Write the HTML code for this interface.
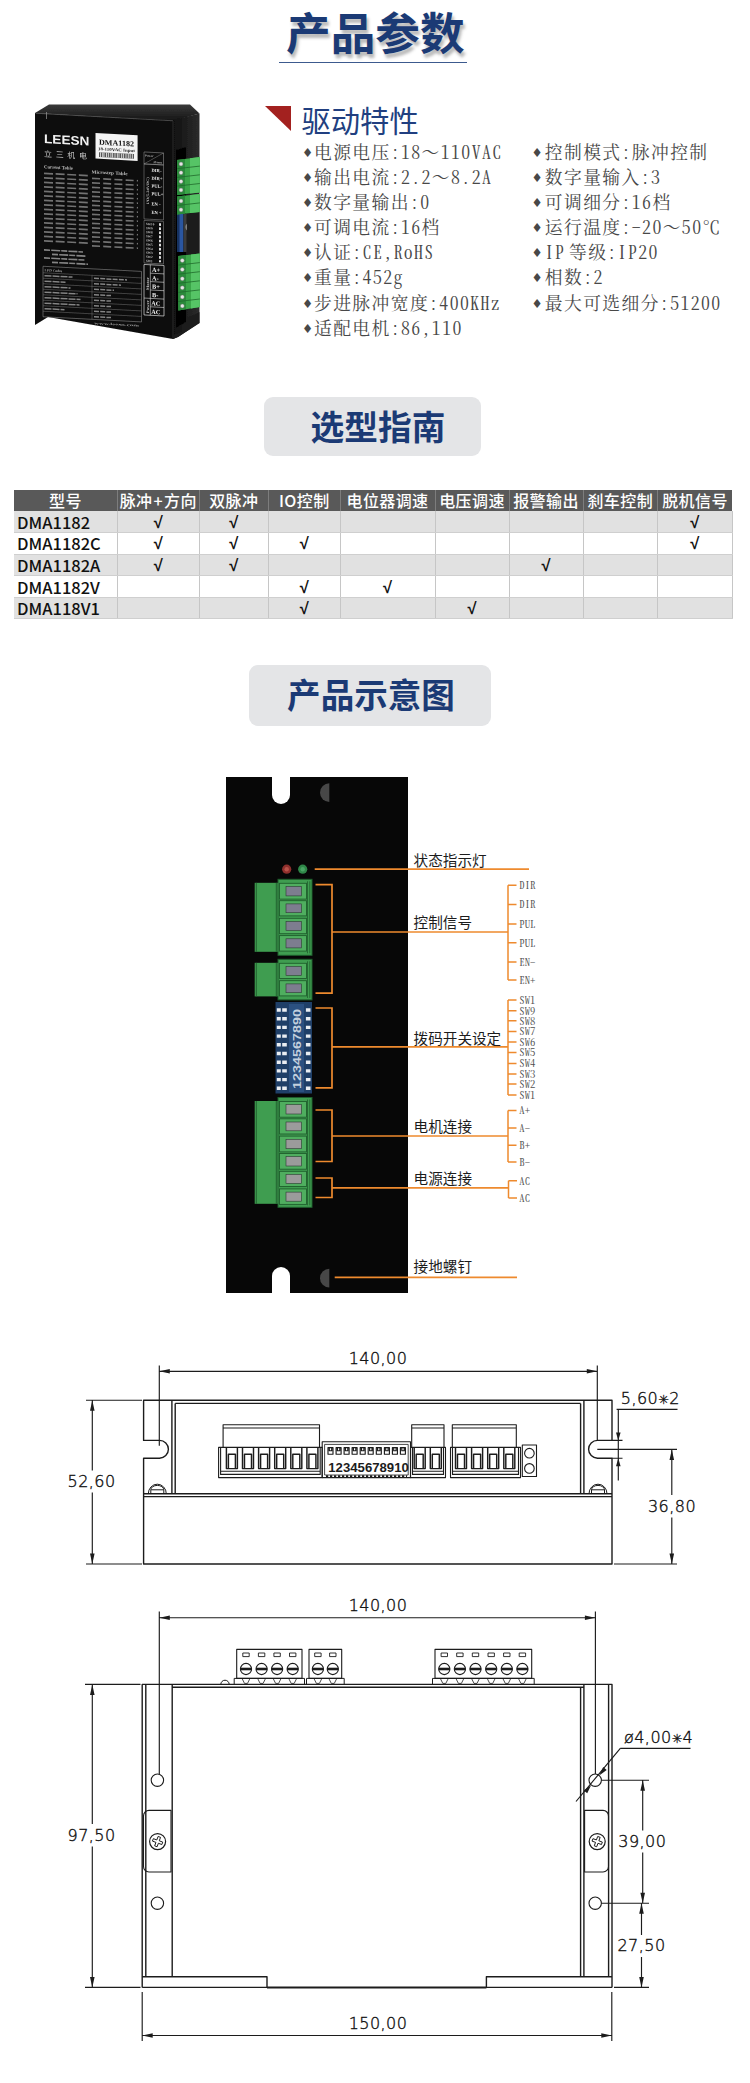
<!DOCTYPE html>
<html lang="zh-CN">
<head>
<meta charset="utf-8">
<title>产品参数</title>
<style>
html,body{margin:0;padding:0;background:#fff}
body{width:750px;height:2083px;position:relative;overflow:hidden;font-family:"Liberation Sans","Noto Sans CJK SC",sans-serif;color:#222}
.abs{position:absolute}
/* title */
#title{left:0;width:750px;top:3.3px;text-align:center;font-size:44.6px;line-height:64px;font-weight:700;color:#1b3a75;letter-spacing:0;text-shadow:2px 4px 3px rgba(90,90,90,.42)}
#title span{display:inline-block;transform:translateX(0.3px)}
#tline{left:279px;top:61.5px;width:188px;height:1.5px;background:#3c5a8e}
/* heading */
#tri{left:265px;top:106px;width:0;height:0;border-top:25px solid #a3211f;border-left:26px solid transparent}
#h2{left:301.5px;top:99.5px;font-size:29.3px;line-height:44px;color:#213f80;font-weight:400;white-space:nowrap}
/* spec list */
.spec{font-family:"Noto Serif CJK SC","Noto Serif CJK JP",serif;font-size:17.8px;letter-spacing:1.4px;line-height:25.1px;color:#484848;white-space:pre;font-feature-settings:"hwid" 1;font-weight:400}
.spec i{font-style:normal;display:inline-block;position:relative;top:1px;left:-1.6px;width:8.9px;font-size:12.5px;font-family:'DejaVu Sans',sans-serif;letter-spacing:0;margin-right:1.4px;text-align:center;vertical-align:top;font-feature-settings:normal}
.spec b{font-weight:inherit;font-feature-settings:normal}
.spec u{text-decoration:none;display:inline-block;width:3.6px}
.spec.r i{width:10.4px}
/* badges */
.badge{background:#e4e5e7;border-radius:9px;overflow:hidden;text-align:center;font-weight:700;color:#1b3a75;white-space:nowrap}
/* table */
#tbl{left:14px;top:490px;width:718px;border-collapse:collapse;table-layout:fixed;font-family:"Noto Sans CJK SC","Liberation Sans",sans-serif}
#tbl td,#tbl th{box-sizing:border-box;padding:0;height:21.6px;line-height:20px;border-left:1px solid #c6c6c6;text-align:center;overflow:hidden;white-space:nowrap}
#tbl th{background:#595959;color:#fff;font-weight:500;font-size:16px;letter-spacing:.4px;height:21px;line-height:21px;border-left:1px solid #7d7d7d}
#tbl tr.g td{background:#e1e1e1}
#tbl td{font-family:"Liberation Sans",sans-serif;font-weight:700;font-size:16.5px;color:#111;border-bottom:1px solid #cfcfcf}
#tbl td:first-child{font-family:"Noto Sans CJK SC","Liberation Sans",sans-serif;text-align:left;font-weight:500;font-size:16.5px;color:#111;padding-left:3px;border-left:none}
#tbl th:first-child{border-left:none}
#tbl td:last-child{border-right:1px solid #c6c6c6}
</style>
</head>
<body>
<div id="title" class="abs"><span>产品参数</span></div>
<div id="tline" class="abs"></div>

<!--PHOTO-S-->
<svg class="abs" style="left:20px;top:95px" width="200" height="250" viewBox="20 95 200 250" font-family="Liberation Serif, serif">
<defs>
<filter id="pb" x="-5%" y="-5%" width="110%" height="110%"><feGaussianBlur stdDeviation="0.45"/></filter>
<linearGradient id="gfin" x1="0" y1="0" x2="0" y2="1"><stop offset="0" stop-color="#3a3a3a"/><stop offset="1" stop-color="#151515"/></linearGradient>
<linearGradient id="gside" x1="0" y1="0" x2="1" y2="0"><stop offset="0" stop-color="#101010"/><stop offset="1" stop-color="#2c2c2c"/></linearGradient>
</defs>
<g filter="url(#pb)">
<!-- heatsink top -->
<polygon points="35,113 49,104.5 190,104.5 199.5,113.5 173,121" fill="url(#gfin)"/>
<!-- right side -->
<polygon points="173,120 199.5,113.5 199.5,323 178,337 173,339" fill="url(#gside)"/>
<!-- front plate -->
<polygon points="35,113 173,120.5 173,339 48,317 35,325" fill="#0b0b0b"/>
<polyline points="35.5,113.3 173,120.8" stroke="#5a5a5a" stroke-width=".7" fill="none"/>
<line x1="173" y1="121" x2="173" y2="338" stroke="#333" stroke-width=".8"/>
<line x1="46.5" y1="112" x2="46.5" y2="119" stroke="#999" stroke-width=".7"/>
<!-- feet -->
<polygon points="173,339 178,337 199.5,323 199.5,312 187,318 187,330 173,335" fill="#1d1d1d"/>
<!-- logo -->
<text x="44" y="143.2" font-family="Liberation Sans, sans-serif" font-weight="700" font-size="12.5" fill="#f2f2f2" textLength="45.5" lengthAdjust="spacingAndGlyphs" transform="skewY(3) translate(0,-2.4)">LEESN</text>
<text x="44" y="156.8" font-family="Noto Sans CJK SC, sans-serif" font-size="8" fill="#c8c8c8" textLength="43" lengthAdjust="spacing" transform="skewY(3) translate(0,-2.4)">立三机电</text>
<!-- label -->
<polygon points="95.5,133 137.6,135.2 137.6,161 95.5,158.6" fill="#f4f4f4"/>
<g transform="skewY(3) translate(0,-5.2)">
<text x="116.5" y="144.6" text-anchor="middle" font-weight="700" font-size="7.6" fill="#111" textLength="35" lengthAdjust="spacingAndGlyphs">DMA1182</text>
<text x="116.5" y="150.3" text-anchor="middle" font-weight="700" font-size="4.3" fill="#222" textLength="37" lengthAdjust="spacingAndGlyphs">18-110VAC Input</text>
<rect x="99" y="152.3" width="35" height="4.6" fill="#555"/>
<path d="M100.5 152.3v4.6M102.7 152.3v4.6M104 152.3v4.6M106.5 152.3v4.6M108.4 152.3v4.6M110.9 152.3v4.6M112.6 152.3v4.6M115 152.3v4.6M117.4 152.3v4.6M119 152.3v4.6M121.6 152.3v4.6M123.4 152.3v4.6M126 152.3v4.6M128.3 152.3v4.6M130.2 152.3v4.6M132.4 152.3v4.6" stroke="#eee" stroke-width=".8"/>
</g>
<!-- tables -->
<g transform="skewY(3) translate(0,-3)" fill="#bdbdbd" font-weight="700">
<text x="44" y="169" font-size="4.8" textLength="29" lengthAdjust="spacingAndGlyphs">Current Table</text>
<text x="91.5" y="171.6" font-size="4.8" textLength="36" lengthAdjust="spacingAndGlyphs">Microstep Table</text>
<g stroke="#727272" stroke-width="1.7" fill="none">
<path d="M44 174h45M44 178.5h45M44 183h45M44 187.500h45M44 192h45M44 196.500h45M44 201h45M44 205.500h45M44 210h45M44 214.500h45M44 219h45M44 223.500h45M44 228h45M44 232.500h45M44 237h45M44 241.500h45" stroke-dasharray="9 2.6"/>
<path d="M92 176.500h46M92 181h46M92 185.500h46M92 190h46M92 194.500h46M92 199h46M92 203.500h46M92 208h46M92 212.500h46M92 217h46M92 221.500h46M92 226h46M92 230.500h46M92 235h46M92 239.500h46M92 244h46" stroke-dasharray="8 3.2"/>
</g>
<g stroke="#858585" stroke-width="1.6" fill="none">
<path d="M44 250.600h39M52 254.600h34M44 258.600h41M52 262.600h36" stroke-dasharray="6 1.2 9 1"/>
</g>
<!-- LED codes table -->
<rect x="43" y="267" width="98.500" height="50.500" fill="none" stroke="#8a8a8a" stroke-width=".6"/>
<path d="M43 273.500h98.500M43 279h98.500M43 284.500h98.500M43 290h98.500M43 295.500h98.500M43 301h98.500M43 306.500h98.500M43 312h98.500M92 273.500v44" stroke="#7a7a7a" stroke-width=".5" fill="none"/>
<text x="44.500" y="272" font-size="3.6" fill="#aaa">LED Codes</text>
<g stroke="#858585" stroke-width="1.5" fill="none">
<path d="M44.500 276.300h28M44.500 281.800h21M44.500 287.300h26M44.500 292.800h33M44.500 298.300h36M44.500 303.800h35M44.500 309.300h20" stroke-dasharray="7 1"/>
<path d="M94 276.300h33M94 281.800h27M94 287.300h20M94 292.800h17M94 298.300h17M94 303.800h17M94 309.300h17M94 314.800h17" stroke-dasharray="5 1.2"/>
</g>
<text x="94" y="322.300" font-size="3.4" fill="#9a9a9a" textLength="45" lengthAdjust="spacingAndGlyphs">www.leesn.com</text>
</g>
<!-- right label column -->
<g transform="skewY(3) translate(0,-15.6)" fill="#e8e8e8" font-weight="700">
<rect x="144" y="160" width="19.500" height="12" fill="none" stroke="#aaa" stroke-width=".5"/>
<line x1="144" y1="172" x2="163.500" y2="160" stroke="#aaa" stroke-width=".4"/>
<text x="145" y="164.600" font-size="3.2" fill="#bbb">Power</text><text x="153" y="170.800" font-size="3.2" fill="#bbb">Alarm</text>
<rect x="144" y="172" width="19.500" height="55" fill="none" stroke="#9a9a9a" stroke-width=".5"/>
<text font-size="4.6" x="151.500"><tspan x="151.500" y="179.500">DIR-</tspan><tspan x="151.500" y="187.300">DIR+</tspan><tspan x="151.500" y="195.100">PUL-</tspan><tspan x="151.500" y="202.900">PUL+</tspan><tspan x="151.500" y="213">EN -</tspan><tspan x="151.500" y="221.500">EN +</tspan></text>
<text font-size="3.8" fill="#bbb" transform="rotate(-90 148.800 212)" x="148.800" y="212" textLength="27" lengthAdjust="spacingAndGlyphs">I/O(5-24VDC)</text>
<rect x="144" y="228.500" width="19.500" height="42.500" fill="none" stroke="#9a9a9a" stroke-width=".5"/>
<text font-size="3.3" fill="#ccc"><tspan x="146" y="233">SW10</tspan><tspan x="146" y="237.100">SW9</tspan><tspan x="146" y="241.200">SW8</tspan><tspan x="146" y="245.300">SW7</tspan><tspan x="146" y="249.400">SW6</tspan><tspan x="146" y="253.500">SW5</tspan><tspan x="146" y="257.600">SW4</tspan><tspan x="146" y="261.700">SW3</tspan><tspan x="146" y="265.800">SW2</tspan><tspan x="146" y="269.900">SW1</tspan></text>
<path d="M160 230.500v39" stroke="#ddd" stroke-width="2" stroke-dasharray="2.6 1.500"/>
<rect x="144" y="272.500" width="20" height="50.500" fill="none" stroke="#ddd" stroke-width=".7"/>
<path d="M150.300 272.500v50.500M150.300 280.900h13.700M150.300 289.300h13.700M150.300 297.700h13.700M144 306.100h20M150.300 314.500h13.700" stroke="#ddd" stroke-width=".6" fill="none"/>
<text font-size="6.3" fill="#f4f4f4"><tspan x="152" y="279.400">A+</tspan><tspan x="152" y="287.800">A-</tspan><tspan x="152" y="296.200">B+</tspan><tspan x="152" y="304.600">B-</tspan><tspan x="151.300" y="313">AC</tspan><tspan x="151.300" y="321.400">AC</tspan></text>
<text font-size="3.8" fill="#ccc" transform="rotate(-90 148.600 298)" x="148.600" y="298" textLength="13" lengthAdjust="spacingAndGlyphs">Motor</text>
<text font-size="3.8" fill="#ccc" transform="rotate(-90 148.600 321)" x="148.600" y="321" textLength="13" lengthAdjust="spacingAndGlyphs">Power</text>
</g>
<!-- side recess + dip -->
<polygon points="176,150 186,147 186,322 176,328" fill="#050505"/>
<rect x="177" y="214" width="6.500" height="38" fill="#2a57a0"/>
<rect x="177" y="214" width="2.500" height="38" fill="#16305f"/><rect x="183.500" y="214" width="6" height="38" fill="#3a3a3a"/>
<ellipse cx="187.800" cy="227" rx="2.100" ry="3.600" fill="#e0e0e0"/>
<polygon points="186.500,200 199.500,196 199.500,262 186.500,258" fill="#1c1c1c"/>
<!-- green terminals -->
<g>
<polygon points="177,160 199.800,157 199.800,192.500 177,195" fill="#3aa64a"/>
<polygon points="177,160 185,159 185,194 177,195" fill="#2b8a3a"/>
<polygon points="190,158.300 199.800,157 199.800,192.500 190,193.600" fill="#57c466"/>
<path d="M177 168.700l22.800-2.600M177 177.400l22.800-2.600M177 186.100l22.800-2.600" stroke="#1f6a2c" stroke-width=".8"/>
<g fill="#e6e6e6" stroke="#666" stroke-width=".4"><circle cx="181" cy="164" r="2"/><circle cx="181" cy="172.700" r="2"/><circle cx="181" cy="181.400" r="2"/><circle cx="181" cy="190.100" r="2"/></g>
<polygon points="177,196.500 199.800,194 199.800,212 177,214.500" fill="#3aa64a"/>
<polygon points="177,196.500 185,195.600 185,213.600 177,214.500" fill="#2b8a3a"/>
<polygon points="190,195 199.800,194 199.800,212 190,213" fill="#57c466"/>
<path d="M177 205.500l22.800-2.600" stroke="#1f6a2c" stroke-width=".8"/>
<g fill="#e6e6e6" stroke="#666" stroke-width=".4"><circle cx="181" cy="201" r="2"/><circle cx="181" cy="209.800" r="2"/></g>
<polygon points="178.300,256 199.800,253.500 199.800,307 178.300,310.500" fill="#3aa64a"/>
<polygon points="178.300,256 186,255.100 186,309.200 178.300,310.500" fill="#2b8a3a"/>
<polygon points="191,254.500 199.800,253.500 199.800,307 191,308.400" fill="#57c466"/>
<path d="M178.300 265.100l21.500-2.500M178.300 274.200l21.500-2.500M178.300 283.300l21.500-2.500M178.300 292.400l21.500-2.500M178.300 301.500l21.500-2.500" stroke="#1f6a2c" stroke-width=".8"/>
<g fill="#e6e6e6" stroke="#666" stroke-width=".4"><circle cx="182.300" cy="260.500" r="2"/><circle cx="182.300" cy="269.600" r="2"/><circle cx="182.300" cy="278.700" r="2"/><circle cx="182.300" cy="287.800" r="2"/><circle cx="182.300" cy="296.900" r="2"/><circle cx="182.300" cy="306" r="2"/></g>
</g>
</g>
</svg>
<!--PHOTO-E-->

<div id="tri" class="abs"></div>
<div id="h2" class="abs">驱动特性</div>

<div class="abs spec" style="left:303.7px;top:139px"><i>♦</i>电源电压:18<b>～</b>110VAC
<i>♦</i>输出电流:2.2<b>～</b>8.2A
<i>♦</i>数字量输出:0
<i>♦</i>可调电流:16档
<i>♦</i>认证:CE,RoHS
<i>♦</i>重量:452g
<i>♦</i>步进脉冲宽度:400KHz
<i>♦</i>适配电机:86,110</div>
<div class="abs spec r" style="left:533px;top:139px"><i>♦</i>控制模式:脉冲控制
<i>♦</i>数字量输入:3
<i>♦</i>可调细分:16档
<i>♦</i>运行温度:-20<b>～</b>50<b>℃</b>
<i>♦</i>IP<u></u>等级:IP20
<i>♦</i>相数:2
<i>♦</i>最大可选细分:51200</div>

<div class="abs badge" style="left:264px;top:397px;width:217px;height:59px;font-size:33.7px;line-height:62px;box-sizing:border-box;padding-left:11px">选型指南</div>

<table id="tbl" class="abs">
<colgroup><col style="width:103.5px"><col style="width:81.5px"><col style="width:69.5px"><col style="width:71.5px"><col style="width:95px"><col style="width:74px"><col style="width:74px"><col style="width:74.5px"><col style="width:74.5px"></colgroup>
<tr><th>型号</th><th>脉冲<span style="margin:0 1px">+</span>方向</th><th>双脉冲</th><th>IO控制</th><th>电位器调速</th><th>电压调速</th><th>报警输出</th><th>刹车控制</th><th>脱机信号</th></tr>
<tr class="g"><td>DMA1182</td><td>√</td><td>√</td><td></td><td></td><td></td><td></td><td></td><td>√</td></tr>
<tr><td>DMA1182C</td><td>√</td><td>√</td><td>√</td><td></td><td></td><td></td><td></td><td>√</td></tr>
<tr class="g"><td>DMA1182A</td><td>√</td><td>√</td><td></td><td></td><td></td><td>√</td><td></td><td></td></tr>
<tr><td>DMA1182V</td><td></td><td></td><td>√</td><td>√</td><td></td><td></td><td></td><td></td></tr>
<tr class="g"><td>DMA118V1</td><td></td><td></td><td>√</td><td></td><td>√</td><td></td><td></td><td></td></tr>
</table>

<div class="abs badge" style="left:249px;top:665px;width:242px;height:61px;font-size:33.6px;line-height:63.5px;box-sizing:border-box;padding-left:2px">产品示意图</div>

<!--DIAGRAM-S-->
<svg class="abs" style="left:200px;top:760px" width="420" height="560" viewBox="200 760 420 560">
<rect x="226" y="777" width="182" height="516" fill="#070707"/>
<path d="M272 776v19a9 9 0 0 0 18 0v-19z" fill="#fff"/>
<path d="M272 1294v-18a9 9 0 0 1 18 0v18z" fill="#fff"/>
<path d="M329.3 783.3a9.3 9.35 0 0 0 0 18.7z" fill="#474747"/>
<path d="M329.3 1268.8a9.3 9.35 0 0 0 0 18.7z" fill="#474747"/>
<circle cx="286.7" cy="869.2" r="4.6" fill="#8e2f2c"/><circle cx="286.7" cy="869.2" r="2.2" fill="#b9524a"/>
<circle cx="302.7" cy="869.2" r="4.6" fill="#2f8748"/><circle cx="302.7" cy="869.2" r="2.2" fill="#4aa565"/>
<rect x="278" y="879.3" width="34" height="76.0" fill="#3f9d50" stroke="#1f5e2d" stroke-width="1"/>
<rect x="254.7" y="882.8" width="23" height="69.0" fill="#3f9d50"/>
<path d="M256.3 882.8v69.0M276.3 882.8v69.0" stroke="#1f5e2d" stroke-width=".9" fill="none"/>
<path d="M307.5 881.3v72.0M309.8 881.3v72.0" stroke="#1f5e2d" stroke-width=".8" fill="none"/>
<rect x="279.5" y="883.3" width="27" height="15.799999999999978" fill="#4fae5f" stroke="#1f5e2d" stroke-width=".9"/>
<rect x="286" y="886.5" width="15.3" height="9.399999999999977" fill="#7d7d8f" stroke="#2c3b32" stroke-width=".6"/>
<rect x="279.5" y="900.6999999999999" width="27" height="15.200000000000069" fill="#4fae5f" stroke="#1f5e2d" stroke-width=".9"/>
<rect x="286" y="903.9" width="15.3" height="8.800000000000068" fill="#7d7d8f" stroke="#2c3b32" stroke-width=".6"/>
<rect x="279.5" y="918.3" width="27" height="15.4" fill="#4fae5f" stroke="#1f5e2d" stroke-width=".9"/>
<rect x="286" y="921.5" width="15.3" height="9.0" fill="#7d7d8f" stroke="#2c3b32" stroke-width=".6"/>
<rect x="279.5" y="935.5999999999999" width="27" height="15.500000000000023" fill="#4fae5f" stroke="#1f5e2d" stroke-width=".9"/>
<rect x="286" y="938.8" width="15.3" height="9.100000000000023" fill="#7d7d8f" stroke="#2c3b32" stroke-width=".6"/>
<rect x="278" y="959.3" width="34" height="40.60000000000002" fill="#3f9d50" stroke="#1f5e2d" stroke-width="1"/>
<rect x="254.7" y="962.8" width="23" height="33.60000000000002" fill="#3f9d50"/>
<path d="M256.3 962.8v33.60000000000002M276.3 962.8v33.60000000000002" stroke="#1f5e2d" stroke-width=".9" fill="none"/>
<path d="M307.5 961.3v36.60000000000002M309.8 961.3v36.60000000000002" stroke="#1f5e2d" stroke-width=".8" fill="none"/>
<rect x="279.5" y="963.3" width="27" height="15.199999999999955" fill="#4fae5f" stroke="#1f5e2d" stroke-width=".9"/>
<rect x="286" y="966.5" width="15.3" height="8.799999999999955" fill="#7d7d8f" stroke="#2c3b32" stroke-width=".6"/>
<rect x="279.5" y="980.6999999999999" width="27" height="15.200000000000069" fill="#4fae5f" stroke="#1f5e2d" stroke-width=".9"/>
<rect x="286" y="983.9" width="15.3" height="8.800000000000068" fill="#7d7d8f" stroke="#2c3b32" stroke-width=".6"/>
<rect x="278" y="1097.5" width="34" height="109.79999999999995" fill="#3f9d50" stroke="#1f5e2d" stroke-width="1"/>
<rect x="254.7" y="1101.0" width="23" height="102.79999999999995" fill="#3f9d50"/>
<path d="M256.3 1101.0v102.79999999999995M276.3 1101.0v102.79999999999995" stroke="#1f5e2d" stroke-width=".9" fill="none"/>
<path d="M307.5 1099.5v105.79999999999995M309.8 1099.5v105.79999999999995" stroke="#1f5e2d" stroke-width=".8" fill="none"/>
<rect x="279.5" y="1101.5" width="27" height="15.699999999999955" fill="#4fae5f" stroke="#1f5e2d" stroke-width=".9"/>
<rect x="286" y="1104.7" width="15.3" height="9.299999999999955" fill="#9b9b9b" stroke="#2c3b32" stroke-width=".6"/>
<rect x="279.5" y="1118.8" width="27" height="15.199999999999955" fill="#4fae5f" stroke="#1f5e2d" stroke-width=".9"/>
<rect x="286" y="1122" width="15.3" height="8.799999999999955" fill="#9b9b9b" stroke="#2c3b32" stroke-width=".6"/>
<rect x="279.5" y="1136.1" width="27" height="15.800000000000091" fill="#4fae5f" stroke="#1f5e2d" stroke-width=".9"/>
<rect x="286" y="1139.3" width="15.3" height="9.400000000000091" fill="#9b9b9b" stroke="#2c3b32" stroke-width=".6"/>
<rect x="279.5" y="1153.5" width="27" height="15.699999999999955" fill="#4fae5f" stroke="#1f5e2d" stroke-width=".9"/>
<rect x="286" y="1156.7" width="15.3" height="9.299999999999955" fill="#9b9b9b" stroke="#2c3b32" stroke-width=".6"/>
<rect x="279.5" y="1171.3" width="27" height="15.199999999999955" fill="#4fae5f" stroke="#1f5e2d" stroke-width=".9"/>
<rect x="286" y="1174.5" width="15.3" height="8.799999999999955" fill="#9b9b9b" stroke="#2c3b32" stroke-width=".6"/>
<rect x="279.5" y="1188.8999999999999" width="27" height="15.500000000000137" fill="#4fae5f" stroke="#1f5e2d" stroke-width=".9"/>
<rect x="286" y="1192.1" width="15.3" height="9.100000000000136" fill="#9b9b9b" stroke="#2c3b32" stroke-width=".6"/>
<rect x="275.5" y="1002" width="36.5" height="91.5" fill="#1f3f68"/>
<rect x="289" y="1004" width="15" height="88" fill="#2b5080"/>
<path d="M276.8 1008.3h4v3.4h-4zM282.2 1008.3h4.6v3.4h-4.6zM305.9 1008.3h4.6v3.4h-4.6zM276.8 1017.0h4v3.4h-4zM282.2 1017.0h4.6v3.4h-4.6zM305.9 1017.0h4.6v3.4h-4.6zM276.8 1025.7h4v3.4h-4zM282.2 1025.7h4.6v3.4h-4.6zM305.9 1025.7h4.6v3.4h-4.6zM276.8 1034.4h4v3.4h-4zM282.2 1034.4h4.6v3.4h-4.6zM305.9 1034.4h4.6v3.4h-4.6zM276.8 1043.1h4v3.4h-4zM282.2 1043.1h4.6v3.4h-4.6zM305.9 1043.1h4.6v3.4h-4.6zM276.8 1051.8h4v3.4h-4zM282.2 1051.8h4.6v3.4h-4.6zM305.9 1051.8h4.6v3.4h-4.6zM276.8 1060.5h4v3.4h-4zM282.2 1060.5h4.6v3.4h-4.6zM305.9 1060.5h4.6v3.4h-4.6zM276.8 1069.2h4v3.4h-4zM282.2 1069.2h4.6v3.4h-4.6zM305.9 1069.2h4.6v3.4h-4.6zM276.8 1077.9h4v3.4h-4zM282.2 1077.9h4.6v3.4h-4.6zM305.9 1077.9h4.6v3.4h-4.6zM276.8 1086.6h4v3.4h-4zM282.2 1086.6h4.6v3.4h-4.6zM305.9 1086.6h4.6v3.4h-4.6z" fill="#e9edf2"/>
<text transform="rotate(-90 300.6 1089)" x="300.6" y="1089" font-family="Liberation Sans, sans-serif" font-weight="700" font-size="10.5" fill="#c3d0de" textLength="80" lengthAdjust="spacingAndGlyphs">1234567890</text>
<g stroke="#ee8a2e" stroke-width="1.7" fill="none">
<path d="M314.7 869.2H529"/>
<path d="M315.5 884.7H332V993.2H315.5M332 932H508"/>
<path d="M315.5 1008H332V1087.9H315.5M332 1046.8H508"/>
<path d="M315.5 1110H332V1161.5H315.5M332 1136H508"/>
<path d="M315.5 1178H332V1197.5H315.5M332 1187.9H508.5"/>
<path d="M334.7 1277.3H517"/>
<path d="M508 885.3V980M508 885.3H516.5M508 904.5H516.5M508 924H516.5M508 942.7H516.5M508 961.9H516.5M508 980H516.5" stroke-width="1.5"/>
<path d="M508 1000V1095M508 1000H516.5M508 1010.7H516.5M508 1020.8H516.5M508 1031.5H516.5M508 1042H516.5M508 1052.5H516.5M508 1063.5H516.5M508 1073.9H516.5M508 1084H516.5M508 1095H516.5" stroke-width="1.5"/>
<path d="M508 1110.5V1162M508 1110.5H516.5M508 1127.9H516.5M508 1145.2H516.5M508 1162H516.5" stroke-width="1.5"/>
<path d="M508.5 1180.7V1198M508.5 1180.7H517.0M508.5 1198H517.0" stroke-width="1.5"/>
</g>
<g font-family="Noto Sans CJK SC, sans-serif" font-size="14.6" fill="#1c1c1c">
<text x="413.6" y="865.6">状态指示灯</text>
<text x="413.6" y="928.2">控制信号</text>
<text x="413.6" y="1044.2">拨码开关设定</text>
<text x="413.6" y="1131.5">电机连接</text>
<text x="413.6" y="1183.5">电源连接</text>
<text x="413.6" y="1272.3">接地螺钉</text>
</g>
<g font-family="Noto Serif CJK SC, serif" font-size="10.67" fill="#505050" style="font-feature-settings:'hwid' 1">
<text x="519.3" y="889.1">DIR</text>
<text x="519.3" y="908.3">DIR</text>
<text x="519.3" y="927.8">PUL</text>
<text x="519.3" y="946.5">PUL</text>
<text x="519.3" y="965.7">EN-</text>
<text x="519.3" y="983.8">EN+</text>
<text x="519.3" y="1003.8">SW1</text>
<text x="519.3" y="1014.5">SW9</text>
<text x="519.3" y="1024.6">SW8</text>
<text x="519.3" y="1035.3">SW7</text>
<text x="519.3" y="1045.8">SW6</text>
<text x="519.3" y="1056.3">SW5</text>
<text x="519.3" y="1067.3">SW4</text>
<text x="519.3" y="1077.7">SW3</text>
<text x="519.3" y="1087.8">SW2</text>
<text x="519.3" y="1098.8">SW1</text>
<text x="519.3" y="1114.3">A+</text>
<text x="519.3" y="1131.7">A-</text>
<text x="519.3" y="1149.0">B+</text>
<text x="519.3" y="1165.8">B-</text>
<text x="519.3" y="1184.5">AC</text>
<text x="519.3" y="1201.8">AC</text>
</g>
</svg>
<!--DIAGRAM-E-->

<!--DRAWINGS-S-->
<svg class="abs" style="left:50px;top:1335px" width="680" height="748" viewBox="50 1335 680 748" font-family="Liberation Sans, sans-serif">
<g fill="none" stroke="#1c1c1c" stroke-width="1.4" stroke-linejoin="round">
<path d="M143.6 1400.2H612V1440.4H597.5A8.9 8.9 0 0 0 597.5 1458.2H612V1564H143.6V1458.2H159.5A8.8 8.8 0 0 0 159.5 1440.4H143.6Z"/>
<path d="M143.6 1493.8H612M143.6 1496.6H612"/>
<path d="M171.9 1400.2V1493.8M175.2 1403.4V1493.8M175.2 1403.4H580.6M580.6 1403.4V1493.8M583.9 1400.2V1493.8"/>
<path d="M148.3 1493.8A9 9.6 0 0 1 166.3 1493.8M151.10000000000002 1489.8H163.5M150.8 1493.8V1489.9A6.5 4.5 0 0 1 163.8 1489.9V1493.8" stroke-width="1"/>
<path d="M589 1493.8A9 9.6 0 0 1 607 1493.8M591.8 1489.8H604.2M591.5 1493.8V1489.9A6.5 4.5 0 0 1 604.5 1489.9V1493.8" stroke-width="1"/>
<path d="M223.1 1447.4V1424.8H319.5V1447.4M223.1 1428H319.5" stroke-width="1.1"/>
<path d="M218.6 1447.4H322.2V1477.6H218.6Z M220.6 1447.4V1474.4H320.2V1447.4 M220.6 1471.2H320.2" stroke-width="1.1"/>
<path d="M226.4 1447.4V1468.6H237.4V1447.4 M228.4 1468.6V1454.2H235.4V1468.6" stroke-width="1.45"/>
<path d="M242.5 1447.4V1468.6H253.5V1447.4 M244.5 1468.6V1454.2H251.5V1468.6" stroke-width="1.45"/>
<path d="M258.6 1447.4V1468.6H269.6V1447.4 M260.6 1468.6V1454.2H267.6V1468.6" stroke-width="1.45"/>
<path d="M274.7 1447.4V1468.6H285.7V1447.4 M276.7 1468.6V1454.2H283.7V1468.6" stroke-width="1.45"/>
<path d="M290.8 1447.4V1468.6H301.8V1447.4 M292.8 1468.6V1454.2H299.8V1468.6" stroke-width="1.45"/>
<path d="M306.9 1447.4V1468.6H317.9V1447.4 M308.9 1468.6V1454.2H315.9V1468.6" stroke-width="1.45"/>
<path d="M411.7 1447.4V1424.8H444V1447.4M411.7 1428H444" stroke-width="1.1"/>
<path d="M410.5 1447.4H445.5V1477.6H410.5Z M412.5 1447.4V1474.4H443.5V1447.4 M412.5 1471.2H443.5" stroke-width="1.1"/>
<path d="M414.2 1447.4V1468.6H425.2V1447.4 M416.2 1468.6V1454.2H423.2V1468.6" stroke-width="1.45"/>
<path d="M430.3 1447.4V1468.6H441.3V1447.4 M432.3 1468.6V1454.2H439.3V1468.6" stroke-width="1.45"/>
<path d="M452.3 1447.4V1424.8H516.3V1447.4M452.3 1428H516.3" stroke-width="1.1"/>
<path d="M450.5 1447.4H520.5V1477.6H450.5Z M452.5 1447.4V1474.4H518.5V1447.4 M452.5 1471.2H518.5" stroke-width="1.1"/>
<path d="M455.5 1447.4V1468.6H466.5V1447.4 M457.5 1468.6V1454.2H464.5V1468.6" stroke-width="1.45"/>
<path d="M471.6 1447.4V1468.6H482.6V1447.4 M473.6 1468.6V1454.2H480.6V1468.6" stroke-width="1.45"/>
<path d="M487.7 1447.4V1468.6H498.7V1447.4 M489.7 1468.6V1454.2H496.7V1468.6" stroke-width="1.45"/>
<path d="M503.8 1447.4V1468.6H514.8V1447.4 M505.8 1468.6V1454.2H512.8V1468.6" stroke-width="1.45"/>
<rect x="322.2" y="1441.8" width="88.3" height="35.8" stroke-width="1.1"/>
<rect x="324.6" y="1444.4" width="83.6" height="30.6" stroke-width=".8"/>
<path d="M328 1447.6h5v6.6h-5zM329.3 1447.6v3.2h2.4v-3.2M336.1 1447.6h5v6.6h-5zM337.4 1447.6v3.2h2.4v-3.2M344.1 1447.6h5v6.6h-5zM345.4 1447.6v3.2h2.4v-3.2M352.1 1447.6h5v6.6h-5zM353.4 1447.6v3.2h2.4v-3.2M360.2 1447.6h5v6.6h-5zM361.5 1447.6v3.2h2.4v-3.2M368.2 1447.6h5v6.6h-5zM369.6 1447.6v3.2h2.4v-3.2M376.3 1447.6h5v6.6h-5zM377.6 1447.6v3.2h2.4v-3.2M384.4 1447.6h5v6.6h-5zM385.7 1447.6v3.2h2.4v-3.2M392.4 1447.6h5v6.6h-5zM393.7 1447.6v3.2h2.4v-3.2M400.4 1447.6h5v6.6h-5zM401.8 1447.6v3.2h2.4v-3.2" stroke-width="1.15"/>
<path d="M326 1476.3H407" stroke-width="2.2" stroke-dasharray="2.2 1.8"/>
<rect x="522.3" y="1445" width="14.2" height="31.5" stroke-width="1.1"/><circle cx="529.4" cy="1453.2" r="4.8" stroke-width="1.1"/><circle cx="529.4" cy="1468.4" r="4.8" stroke-width="1.1"/>
</g>
<text x="328.3" y="1472.4" font-weight="700" font-size="12.8" fill="#1c1c1c" textLength="80.5" lengthAdjust="spacingAndGlyphs">12345678910</text>
<g fill="none" stroke="#1c1c1c" stroke-width="1.15">
<path d="M159.3 1365.5V1445.8M597.3 1365.5V1440M159.3 1371.3H597.3"/>
<path d="M86 1400.2H142M86 1564H142M92.3 1400.2V1470.5M92.3 1492.5V1564"/>
<path d="M616.6 1409.3H677.5M618.3 1409.3V1480.5M612 1440.4H622.5M612 1458.2H622.5M597.3 1449.4H677M614 1564H677M671.8 1449.4V1495M671.8 1517.5V1564"/>
</g>
<path d="M159.3 1371.3l10.5 -2.3v4.6zM597.3 1371.3l-10.5 -2.3v4.6zM92.3 1400.2l-2.3 10.5h4.6zM92.3 1564l-2.3 -10.5h4.6zM618.3 1440.4l-2.3 -8h4.6zM618.3 1458.2l-2.3 8h4.6zM671.8 1449.4l-2.3 10.5h4.6zM671.8 1564l-2.3 -10.5h4.6z" fill="#1c1c1c"/>
<text x="378" y="1364.3" text-anchor="middle" font-family="DejaVu Sans Light, DejaVu Sans, sans-serif" font-weight="200" font-size="16" letter-spacing=".45" fill="#111" stroke="#111" stroke-width=".38">140,00</text>
<text x="91.6" y="1487.3" text-anchor="middle" font-family="DejaVu Sans Light, DejaVu Sans, sans-serif" font-weight="200" font-size="16" letter-spacing=".45" fill="#111" stroke="#111" stroke-width=".38">52,60</text>
<text x="672" y="1512" text-anchor="middle" font-family="DejaVu Sans Light, DejaVu Sans, sans-serif" font-weight="200" font-size="16" letter-spacing=".45" fill="#111" stroke="#111" stroke-width=".38">36,80</text>
<text x="620.8" y="1404.3" font-family="DejaVu Sans Light, DejaVu Sans, sans-serif" font-weight="200" font-size="16" letter-spacing=".45" fill="#111" stroke="#111" stroke-width=".38">5,60<tspan font-family="DejaVu Sans, sans-serif" font-weight="400" font-size="12.5" stroke-width=".25" dy="-.600">✳</tspan><tspan dy=".600">2</tspan></text>
<g fill="none" stroke="#1c1c1c" stroke-width="1.4" stroke-linejoin="round">
<path d="M142.2 1987.4V1684.4H612V1987.4"/>
<path d="M145.8 1684.4V1976.8M172.2 1684.4V1976.8M172.2 1687.2H583.9M580.6 1687.2V1976.8M583.9 1684.4V1976.8M608.6 1684.4V1976.8"/>
<path d="M142.2 1976.8H267V1987.4H142.2M612 1976.8H486.4V1987.4H612"/>
<path d="M267 1987.4H486.4" stroke-width="2"/>
<circle cx="157.4" cy="1780.2" r="6.2" stroke-width="1.1"/>
<circle cx="157.4" cy="1903.2" r="6.2" stroke-width="1.1"/>
<circle cx="595.2" cy="1780.2" r="6.2" stroke-width="1.1"/>
<circle cx="595.2" cy="1903.2" r="6.2" stroke-width="1.1"/>
<path d="M171 1810.4H149A5.5 5.5 0 0 0 143.5 1815.9V1866.5A5.5 5.5 0 0 0 149 1872H171Z" stroke-width="1.1"/>
<path d="M584.6 1810.4H603A5.5 5.5 0 0 1 608.5 1815.9V1866.5A5.5 5.5 0 0 1 603 1872H584.6Z" stroke-width="1.1"/>
<circle cx="157.6" cy="1841.6" r="8" stroke-width="1.2"/>
<path d="M156.29999999999998 1836.6h2.6v3.7h3.7v2.6h-3.7v3.7h-2.6v-3.7h-3.7v-2.6h3.7z" stroke-width=".900" transform="rotate(20 157.6 1841.6)"/>
<circle cx="597.2" cy="1841.6" r="8" stroke-width="1.2"/>
<path d="M595.9000000000001 1836.6h2.6v3.7h3.7v2.6h-3.7v3.7h-2.6v-3.7h-3.7v-2.6h3.7z" stroke-width=".900" transform="rotate(20 597.2 1841.6)"/>
<rect x="236.7" y="1649.4" width="65.30000000000001" height="29" stroke-width="1.1"/>
<path d="M234.2 1678.4H304.5V1684.4M234.2 1678.4V1684.4" stroke-width="1"/>
<circle cx="246" cy="1669" r="5.6" stroke-width="1.1"/><path d="M240.4 1669h11.2" stroke-width="2.6"/><rect x="242.8" y="1653" width="6.4" height="3.6" stroke-width=".900"/>
<path d="M242 1678.4l2.5 5h3l2.5 -5" stroke-width=".800"/>
<circle cx="261.6" cy="1669" r="5.6" stroke-width="1.1"/><path d="M256 1669h11.2" stroke-width="2.6"/><rect x="258.4" y="1653" width="6.4" height="3.6" stroke-width=".900"/>
<path d="M257.6 1678.4l2.5 5h3l2.5 -5" stroke-width=".800"/>
<circle cx="277.1" cy="1669" r="5.6" stroke-width="1.1"/><path d="M271.5 1669h11.2" stroke-width="2.6"/><rect x="273.9" y="1653" width="6.4" height="3.6" stroke-width=".900"/>
<path d="M273.1 1678.4l2.5 5h3l2.5 -5" stroke-width=".800"/>
<circle cx="292.7" cy="1669" r="5.6" stroke-width="1.1"/><path d="M287.1 1669h11.2" stroke-width="2.6"/><rect x="289.5" y="1653" width="6.4" height="3.6" stroke-width=".900"/>
<path d="M288.7 1678.4l2.5 5h3l2.5 -5" stroke-width=".800"/>
<rect x="309" y="1649.4" width="32.69999999999999" height="29" stroke-width="1.1"/>
<path d="M306.5 1678.4H344.2V1684.4M306.5 1678.4V1684.4" stroke-width="1"/>
<circle cx="317.9" cy="1669" r="5.6" stroke-width="1.1"/><path d="M312.3 1669h11.2" stroke-width="2.6"/><rect x="314.7" y="1653" width="6.4" height="3.6" stroke-width=".900"/>
<path d="M313.9 1678.4l2.5 5h3l2.5 -5" stroke-width=".800"/>
<circle cx="332.8" cy="1669" r="5.6" stroke-width="1.1"/><path d="M327.2 1669h11.2" stroke-width="2.6"/><rect x="329.6" y="1653" width="6.4" height="3.6" stroke-width=".900"/>
<path d="M328.8 1678.4l2.5 5h3l2.5 -5" stroke-width=".800"/>
<rect x="435" y="1649.4" width="96.70000000000005" height="29" stroke-width="1.1"/>
<path d="M432.5 1678.4H534.2V1684.4M432.5 1678.4V1684.4" stroke-width="1"/>
<circle cx="444.3" cy="1669" r="5.6" stroke-width="1.1"/><path d="M438.7 1669h11.2" stroke-width="2.6"/><rect x="441.1" y="1653" width="6.4" height="3.6" stroke-width=".900"/>
<path d="M440.3 1678.4l2.5 5h3l2.5 -5" stroke-width=".800"/>
<circle cx="459.9" cy="1669" r="5.6" stroke-width="1.1"/><path d="M454.3 1669h11.2" stroke-width="2.6"/><rect x="456.7" y="1653" width="6.4" height="3.6" stroke-width=".900"/>
<path d="M455.9 1678.4l2.5 5h3l2.5 -5" stroke-width=".800"/>
<circle cx="475.5" cy="1669" r="5.6" stroke-width="1.1"/><path d="M469.9 1669h11.2" stroke-width="2.6"/><rect x="472.3" y="1653" width="6.4" height="3.6" stroke-width=".900"/>
<path d="M471.5 1678.4l2.5 5h3l2.5 -5" stroke-width=".800"/>
<circle cx="491.2" cy="1669" r="5.6" stroke-width="1.1"/><path d="M485.6 1669h11.2" stroke-width="2.6"/><rect x="488" y="1653" width="6.4" height="3.6" stroke-width=".900"/>
<path d="M487.2 1678.4l2.5 5h3l2.5 -5" stroke-width=".800"/>
<circle cx="506.8" cy="1669" r="5.6" stroke-width="1.1"/><path d="M501.2 1669h11.2" stroke-width="2.6"/><rect x="503.6" y="1653" width="6.4" height="3.6" stroke-width=".900"/>
<path d="M502.8 1678.4l2.5 5h3l2.5 -5" stroke-width=".800"/>
<circle cx="522.4" cy="1669" r="5.6" stroke-width="1.1"/><path d="M516.8 1669h11.2" stroke-width="2.6"/><rect x="519.2" y="1653" width="6.4" height="3.6" stroke-width=".900"/>
<path d="M518.4 1678.4l2.5 5h3l2.5 -5" stroke-width=".800"/>
<path d="M220.8 1684.4A4.2 4.2 0 0 1 229.2 1684.4" stroke-width="1"/>
</g>
<g fill="none" stroke="#1c1c1c" stroke-width="1.15">
<path d="M159.3 1611.5V1774M595.4 1611.5V1774M159.3 1617.7H595.4"/>
<path d="M85 1684.4H140.5M85 1987.4H140.5M92.3 1684.4V1824M92.3 1846.5V1987.4"/>
<path d="M142.2 1992V2041M611.8 1992V2041M142.2 2035.5H611.8"/>
<path d="M620.3 1748.4H690.5M620.3 1748.4L576 1801.5"/>
<path d="M601.5 1780.2H649M601.5 1903.2H649M614 1987.4H649M642.7 1780.2V1830.5M642.7 1852.5V1903.2M641.5 1903.2V1935M641.5 1957V1987.4"/>
</g>
<path d="M159.3 1617.7l10.5 -2.3v4.6zM595.4 1617.7l-10.5 -2.3v4.6zM92.3 1684.4l-2.3 10.5h4.6zM92.3 1987.4l-2.3 -10.5h4.6zM142.2 2035.5l10.5 -2.3v4.6zM611.8 2035.5l-10.5 -2.3v4.6zM642.7 1780.2l-2.3 10.5h4.6zM642.7 1903.2l-2.3 -10.5h4.6zM641.5 1903.2l-2.3 10.5h4.6zM641.5 1987.4l-2.3 -10.5h4.6zM599.2 1775.4L606.7 1770L603.2 1767.1zM591.2 1785L583.7 1790.4L587.2 1793.3z" fill="#1c1c1c"/>
<text x="378" y="1610.8" text-anchor="middle" font-family="DejaVu Sans Light, DejaVu Sans, sans-serif" font-weight="200" font-size="16" letter-spacing=".45" fill="#111" stroke="#111" stroke-width=".38">140,00</text>
<text x="91.6" y="1841" text-anchor="middle" font-family="DejaVu Sans Light, DejaVu Sans, sans-serif" font-weight="200" font-size="16" letter-spacing=".45" fill="#111" stroke="#111" stroke-width=".38">97,50</text>
<text x="378" y="2029.3" text-anchor="middle" font-family="DejaVu Sans Light, DejaVu Sans, sans-serif" font-weight="200" font-size="16" letter-spacing=".45" fill="#111" stroke="#111" stroke-width=".38">150,00</text>
<text x="642.3" y="1847" text-anchor="middle" font-family="DejaVu Sans Light, DejaVu Sans, sans-serif" font-weight="200" font-size="16" letter-spacing=".45" fill="#111" stroke="#111" stroke-width=".38">39,00</text>
<text x="641.5" y="1951.3" text-anchor="middle" font-family="DejaVu Sans Light, DejaVu Sans, sans-serif" font-weight="200" font-size="16" letter-spacing=".45" fill="#111" stroke="#111" stroke-width=".38">27,50</text>
<text x="624" y="1743.3" font-family="DejaVu Sans Light, DejaVu Sans, sans-serif" font-weight="200" font-size="16" letter-spacing=".45" fill="#111" stroke="#111" stroke-width=".38">ø4,00<tspan font-family="DejaVu Sans, sans-serif" font-weight="400" font-size="12.5" stroke-width=".25" dy="-.600">✳</tspan><tspan dy=".600">4</tspan></text>
</svg>
<!--DRAWINGS-E-->

</body>
</html>
